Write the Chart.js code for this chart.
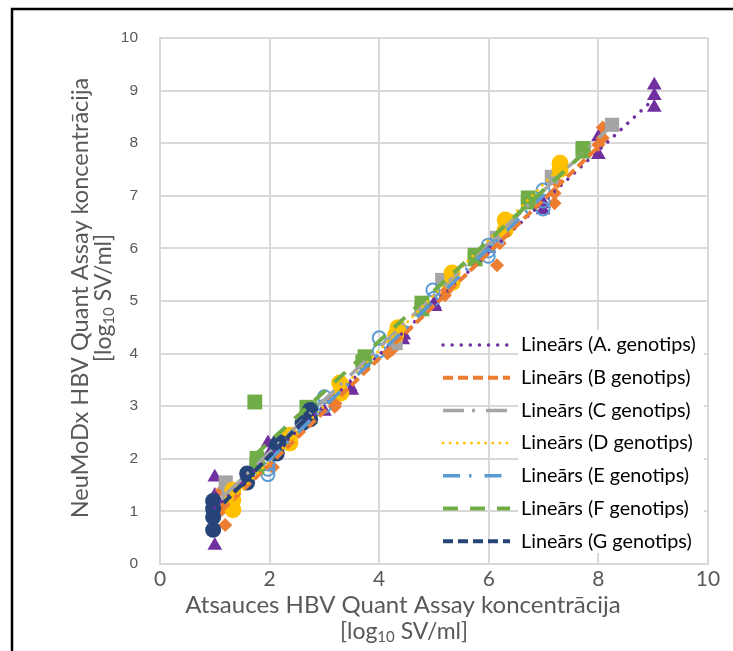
<!DOCTYPE html>
<html>
<head>
<meta charset="utf-8">
<script src="https://cdn.jsdelivr.net/npm/chart.js@4"></script>
<style>
  html, body { margin: 0; padding: 0; background: #fff; }
  canvas { display: block; }
</style>
</head>
<body>
<canvas id="chart" width="733" height="651"></canvas>
<script>
// genotype labels (legend shows only the linear trend lines)
const GENOTYPES = ["A. genotips", "B genotips", "C genotips", "D genotips", "E genotips", "F genotips", "G genotips"];

// reference assay (x) and NeuMoDx (y), log10 IU/ml
const A_X = [1.0, 1.0, 1.0, 1.0, 1.97, 2.0, 3.0, 3.47, 3.5, 4.43, 4.45, 5.02, 5.0, 6.0, 6.99, 7.0, 8.0, 8.0, 9.02, 9.02, 9.02];
const A_Y = [1.65, 1.3, 1.1, 0.35, 2.3, 2.1, 2.9, 3.37, 3.3, 4.26, 4.35, 4.89, 4.95, 6.0, 6.73, 6.85, 8.12, 7.78, 9.1, 8.9, 8.68];

const B_X = [1.13, 1.13, 1.19, 1.2, 2.06, 2.15, 2.2, 3.16, 3.19, 3.2, 4.15, 4.23, 5.2, 5.23, 6.15, 6.2, 6.42, 7.2, 7.2, 7.2, 8.0, 8.08, 8.08];
const B_Y = [1.4, 1.03, 0.74, 1.2, 1.84, 2.1, 2.23, 3.12, 2.99, 3.05, 4.0, 4.07, 5.11, 5.2, 5.68, 6.1, 6.45, 7.3, 7.05, 6.86, 7.97, 8.1, 8.3];

const C_X = [1.2, 1.25, 2.25, 3.3, 4.3, 5.15, 6.15, 7.15, 8.25];
const C_Y = [1.55, 1.35, 2.3, 3.3, 4.2, 5.4, 6.2, 7.36, 8.35];

const D_X = [1.33, 1.33, 1.33, 2.37, 2.37, 3.28, 3.3, 4.34, 4.3, 5.33, 5.33, 6.3, 6.3, 7.3, 7.3];
const D_Y = [1.03, 1.4, 1.22, 2.3, 2.45, 3.44, 3.25, 4.49, 4.35, 5.53, 5.35, 6.54, 6.35, 7.62, 7.5];

const E_X = [1.97, 1.97, 1.97, 3.0, 3.0, 4.0, 4.0, 4.98, 5.0, 5.99, 5.99, 5.99, 6.99, 6.99, 6.99];
const E_Y = [1.7, 1.8, 1.9, 3.18, 3.0, 4.3, 4.05, 5.21, 5.05, 6.06, 5.95, 5.85, 7.11, 6.9, 6.75];

const F_X = [1.73, 1.77, 1.77, 1.77, 2.68, 2.74, 2.74, 3.7, 3.74, 4.78, 4.78, 5.75, 5.75, 6.72, 6.72, 7.72, 7.72];
const F_Y = [3.08, 2.01, 1.9, 1.85, 2.98, 2.95, 2.8, 3.84, 3.94, 4.96, 4.85, 5.87, 5.8, 6.96, 6.88, 7.9, 7.85];

const G_X = [0.97, 0.97, 0.97, 0.97, 1.59, 1.59, 2.13, 2.13, 2.17, 2.6, 2.74, 2.74];
const G_Y = [0.65, 0.89, 1.05, 1.2, 1.55, 1.72, 2.1, 2.26, 2.32, 2.68, 2.75, 2.93];

const SERIES_X = [A_X, B_X, C_X, D_X, E_X, F_X, G_X];
const SERIES_Y = [A_Y, B_Y, C_Y, D_Y, E_Y, F_Y, G_Y];

const COLORS = ["#7030A0", "#ED7D31", "#A5A5A5", "#FFC000", "#5B9BD5", "#70AD47", "#264478"];
const MARKERS = [
  { pointStyle: "triangle", radius: 8.5, fill: true },
  { pointStyle: "rectRot", radius: 7, fill: true },
  { pointStyle: "rect", radius: 10, fill: true },
  { pointStyle: "circle", radius: 8.5, fill: true },
  { pointStyle: "circle", radius: 6.5, fill: false },
  { pointStyle: "rect", radius: 10.5, fill: true },
  { pointStyle: "circle", radius: 8, fill: true }
];
const TREND_STYLE = [
  { dash: [0.1, 9], width: 3.5, cap: "round" },
  { dash: [10, 5], width: 4, cap: "butt" },
  { dash: [21, 8, 3, 11], width: 3.5, cap: "butt" },
  { dash: [0.1, 7], width: 2.8, cap: "round" },
  { dash: [17, 9, 2.5, 13], width: 3.5, cap: "butt" },
  { dash: [15, 12], width: 4, cap: "butt" },
  { dash: [10, 5], width: 4, cap: "butt" }
];

// least-squares line over the x range of a series (Excel "Lineārs")
function linearFit(xs, ys) {
  const n = xs.length;
  let sx = 0, sy = 0, sxx = 0, sxy = 0;
  for (let i = 0; i < n; i++) {
    sx += xs[i]; sy += ys[i]; sxx += xs[i] * xs[i]; sxy += xs[i] * ys[i];
  }
  const b = (n * sxy - sx * sy) / (n * sxx - sx * sx);
  const a = (sy - b * sx) / n;
  const lo = Math.min(...xs), hi = Math.max(...xs);
  return [{ x: lo, y: a + b * lo }, { x: hi, y: a + b * hi }];
}

const datasets = [];
GENOTYPES.forEach((g, i) => {
  const m = MARKERS[i];
  datasets.push({
    type: "scatter",
    label: g,
    data: SERIES_X[i].map((x, k) => ({ x: x, y: SERIES_Y[i][k] })),
    pointStyle: m.pointStyle,
    pointRadius: m.radius,
    pointHoverRadius: m.radius,
    backgroundColor: m.fill ? COLORS[i] : "rgba(0,0,0,0)",
    borderColor: COLORS[i],
    pointBorderWidth: m.fill ? 0 : 2,
    order: 20 - i
  });
});
GENOTYPES.forEach((g, i) => {
  const t = TREND_STYLE[i];
  datasets.push({
    type: "line",
    label: "Lineārs (" + g + ")",
    trend: true,
    data: linearFit(SERIES_X[i], SERIES_Y[i]),
    borderColor: COLORS[i],
    borderWidth: t.width,
    borderDash: t.dash,
    borderCapStyle: t.cap,
    pointRadius: 0,
    fill: false,
    order: 10 - i
  });
});

const GREY = "#595959";

function drawLogLine(ctx, cx, cy, size) {
  // "[log10 SV/ml]" with subscript 10
  const a = "[log", sub = "10", b = " SV/ml]";
  const subSize = Math.round(size * 0.65);
  ctx.font = size + "px Lato";
  const wa = ctx.measureText(a).width, wb = ctx.measureText(b).width;
  ctx.font = subSize + "px Lato";
  const ws = ctx.measureText(sub).width;
  let x = cx - (wa + ws + wb) / 2;
  ctx.textAlign = "left";
  ctx.textBaseline = "middle";
  ctx.font = size + "px Lato";
  ctx.fillText(a, x, cy); x += wa;
  ctx.font = subSize + "px Lato";
  ctx.fillText(sub, x, cy + size * 0.22); x += ws;
  ctx.font = size + "px Lato";
  ctx.fillText(b, x, cy);
}

const framePlugin = {
  id: "frame",
  beforeDraw(chart) {
    const ctx = chart.ctx;
    ctx.save();
    ctx.fillStyle = "#fff";
    ctx.fillRect(0, 0, chart.width, chart.height);
    ctx.strokeStyle = "#000";
    ctx.lineWidth = 2.5;
    ctx.beginPath();
    ctx.moveTo(12, chart.height);
    ctx.lineTo(12, 9);
    ctx.lineTo(chart.width, 9);
    ctx.stroke();
    ctx.restore();
  },
  afterDraw(chart) {
    const ctx = chart.ctx;
    ctx.save();
    ctx.fillStyle = GREY;
    // x axis title
    ctx.font = "24px Lato";
    ctx.textAlign = "center";
    ctx.textBaseline = "middle";
    ctx.fillText("Atsauces HBV Quant Assay koncentrācija", 403, 605);
    drawLogLine(ctx, 404, 632, 23);
    // y axis title
    ctx.translate(80, 298);
    ctx.rotate(-Math.PI / 2);
    ctx.font = "23.5px Lato";
    ctx.textAlign = "center";
    ctx.fillText("NeuMoDx HBV Quant Assay koncentrācija", 0, 0);
    drawLogLine(ctx, 0, 24, 23);
    ctx.restore();

    // legend with trend lines only
    ctx.save();
    ctx.fillStyle = "#fff";
    ctx.fillRect(518, 330, 186, 223);
    const trends = chart.data.datasets.filter(d => d.trend);
    trends.forEach((d, i) => {
      const y = 345 + i * 32.7;
      ctx.strokeStyle = d.borderColor;
      ctx.lineWidth = d.borderWidth;
      ctx.lineCap = d.borderCapStyle;
      ctx.setLineDash(d.borderDash);
      ctx.beginPath();
      ctx.moveTo(443, y);
      ctx.lineTo(510, y);
      ctx.stroke();
      ctx.setLineDash([]);
      ctx.fillStyle = "#000";
      ctx.font = "19.8px Lato";
      ctx.textAlign = "left";
      ctx.textBaseline = "middle";
      ctx.fillText(d.label, 521, y);
    });
    ctx.restore();
  }
};

new Chart(document.getElementById("chart").getContext("2d"), {
  type: "scatter",
  data: { datasets: datasets },
  options: {
    responsive: false,
    animation: false,
    devicePixelRatio: 1,
    layout: { padding: { top: 38, right: 25, left: 0, bottom: 0 } },
    plugins: {
      legend: { display: false },
      tooltip: { enabled: false }
    },
    scales: {
      x: {
        type: "linear",
        min: 0,
        max: 10,
        ticks: { stepSize: 2, color: GREY, padding: 3, font: { family: "Lato", size: 21 } },
        grid: { color: "#d9d9d9", lineWidth: 2, drawTicks: false },
        border: { color: "#d9d9d9", width: 2 },
        afterFit(s) { s.height = 87; }
      },
      y: {
        type: "linear",
        min: 0,
        max: 10,
        ticks: { stepSize: 1, color: GREY, padding: 22, font: { family: "Liberation Sans", size: 15.5 } },
        grid: { color: "#d9d9d9", lineWidth: 2, drawTicks: false },
        border: { color: "#d9d9d9", width: 2 },
        afterFit(s) { s.width = 160; }
      }
    }
  },
  plugins: [framePlugin]
});
</script>
</body>
</html>
